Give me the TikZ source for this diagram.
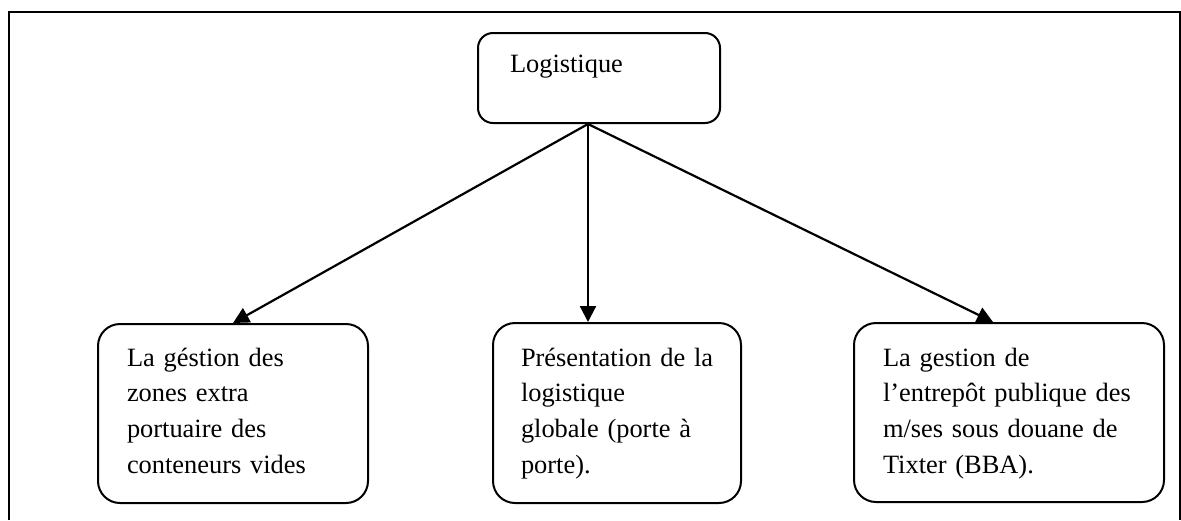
\documentclass[tikz,border=0pt]{standalone}
\usepackage{fontspec}
\setmainfont{Liberation Serif}
\usetikzlibrary{arrows.meta,calc}
\begin{document}
\begin{tikzpicture}[x=1pt,y=-1pt,
  boxstyle/.style={draw, line width=2pt, rounded corners=22pt, anchor=north west, align=left,
    inner ysep=0pt, inner xsep=29pt, font=\fontsize{26.4}{35.8}\selectfont,
    text height=42pt, text depth=137pt},
  arr/.style={line width=2.2pt, -{Triangle[length=16pt,width=16pt]}}]
\useasboundingbox (0,0) rectangle (1181,520);
\draw[line width=2.2pt] (9,520) -- (9,12) -- (1180,12) -- (1180,520);
\node[boxstyle, rounded corners=15pt, inner xsep=32pt, inner ysep=8pt, text width=178pt,
      text height=31pt, text depth=43pt] (top) at (477,32) {Logistique};
\node[boxstyle, text width=212pt] (left) at (97,323)
  {\mbox{La géstion des}\\\mbox{zones extra}\\\mbox{portuaire des}\\\mbox{conteneurs vides}};
\node[boxstyle, inner xsep=28pt, text width=192pt, text height=43pt] (mid) at (492,322)
  {\mbox{Présentation de la}\\\mbox{logistique}\\\mbox{globale (porte à}\\\mbox{porte).}};
\node[boxstyle, text width=252pt, text height=43pt, text depth=136pt] (right) at (853,322)
  {\mbox{La gestion de}\\\mbox{l’entrepôt publique des}\\\mbox{m/ses sous douane de}\\\mbox{Tixter (BBA).}};
\draw[arr] ($(top.south)+(-11,0)$) -- (left.north);
\draw[arr] ($(top.south)+(-11,0)$) -- ($(mid.north)+(-29,0)$);
\draw[arr] ($(top.south)+(-11,0)$) -- ($(right.north)+(-16,0)$);
\end{tikzpicture}
\end{document}
